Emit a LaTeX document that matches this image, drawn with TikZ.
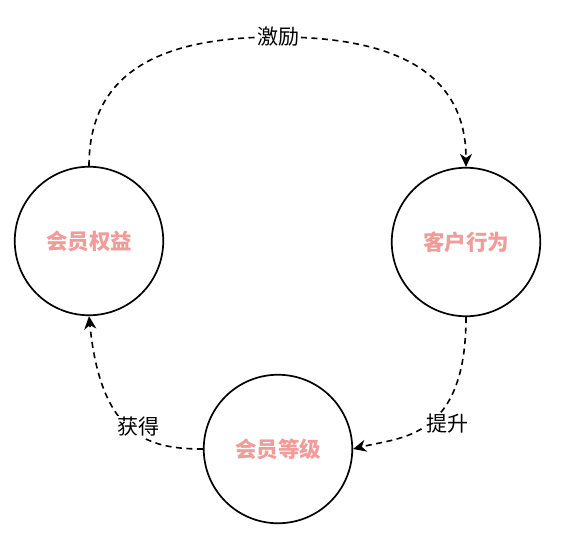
\documentclass[tikz,border=0pt]{standalone}
\usepackage{fontspec}
\usepackage{tikz}
\usepackage{xcolor}
\usetikzlibrary{arrows.meta,positioning}
\newfontfamily\cjk{Noto Sans CJK SC}
\definecolor{ink}     {HTML}{000000}
\definecolor{rosetext}{HTML}{F19C99}
\tikzset{
  ringnode/.style ={circle, draw=ink, fill=white, line width=1.7pt,
                    minimum size=148.5pt, inner sep=0pt,
                    font=\cjk\fontsize{21.5}{24}\selectfont\bfseries, text=rosetext},
  flowarr/.style  ={-{Stealth[length=13pt,width=12pt,inset=4pt]}, line width=1.6pt,
                    dash pattern=on 6pt off 4.5pt, color=ink},
  lblnode/.style  ={fill=white, inner sep=1pt, text=ink,
                    font=\cjk\fontsize{21}{24}\selectfont},
}
\begin{document}
\begin{tikzpicture}[x=1pt,y=-1pt]
    \useasboundingbox (0,0) rectangle (562,544);
    \node[ringnode] (quanyi)  at (89,241)  {会员权益};
    \node[ringnode] (xingwei) at (466,242) {客户行为};
    \node[ringnode] (dengji)  at (278,449) {会员等级};
    \coordinate (top) at (278,37);
    % incentive arc on top
    \draw[flowarr] (quanyi.north) to[out=90,in=180,looseness=1.15] (top)
      node[lblnode] {激励} to[out=0,in=90,looseness=1.15] (xingwei.north);
    % lower arcs
    \draw[flowarr] (xingwei.south) .. controls +(0,123) and +(47,-12) .. (dengji.east);
    \draw[flowarr] (dengji.west) .. controls +(-55,0) and +(12,120) .. (quanyi.south);
    \node[lblnode] (tisheng) at (447,424) {提升};
    \node[lblnode] (huode)   at (138,427) {获得};
  \end{tikzpicture}
\end{document}
